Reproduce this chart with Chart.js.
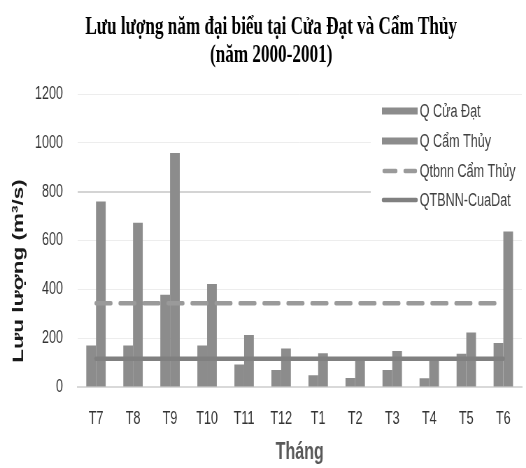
<!DOCTYPE html>
<html>
<head>
<meta charset="utf-8">
<script src="https://cdn.jsdelivr.net/npm/chart.js@4/dist/chart.umd.min.js"></script>
<style>
  html,body{margin:0;padding:0;background:#fff;overflow:hidden;}
  /* the original is squeezed sideways, so draw wide and scale down */
  #wrap{width:752px;height:468px;transform:scaleX(0.6995);transform-origin:0 0;}
</style>
</head>
<body>
<div id="wrap"><canvas id="chart" width="752" height="468"></canvas></div>
<script>
// ---- data ----
const months = ["T7","T8","T9","T10","T11","T12","T1","T2","T3","T4","T5","T6"];
const qCuaDat  = [170, 170, 378, 170, 92, 70, 48, 37, 70, 36, 136, 180];
const qCamThuy = [760, 673, 958, 422, 213, 158, 138, 115, 147, 113, 223, 637];
const qtbnnCamThuy = [343, 343, 343, 343, 343, 343, 343, 343, 343, 343, 343, 343];
const qtbnnCuaDat  = [116, 116, 116, 116, 116, 116, 116, 116, 116, 116, 116, 116];
const yTicks = [0, 200, 400, 600, 800, 1000, 1200];

const sans = "'Liberation Sans',Arial,sans-serif";

// legend sits over the plot on a white box, like the original
const boxLegend = {
  id: "boxLegend",
  beforeDatasetsDraw(chart){
    const ctx = chart.ctx;
    ctx.save();
    ctx.fillStyle = "#fff";
    ctx.fillRect(530, 100, 222, 114);
    ctx.restore();
  },
  afterDraw(chart){
    const ctx = chart.ctx;
    const ys = [111, 141, 171, 200];
    ctx.save();
    chart.data.datasets.forEach((ds, i) => {
      const y = ys[i];
      ctx.strokeStyle = ds.borderColor;
      ctx.lineWidth = ds.borderWidth;
      ctx.lineCap = "round";
      if(ds.type === "line" && ds.borderDash){
        ctx.beginPath();
        ctx.moveTo(549, y); ctx.lineTo(566, y);
        ctx.moveTo(579, y); ctx.lineTo(594, y);
        ctx.stroke();
      } else if(ds.type === "line"){
        ctx.beginPath(); ctx.moveTo(548, y); ctx.lineTo(595, y); ctx.stroke();
      } else {
        ctx.fillStyle = ds.backgroundColor;
        ctx.fillRect(546, y - 3.5, 51, 7);
      }
      ctx.fillStyle = "#404040";
      ctx.font = "18px " + sans;
      ctx.textBaseline = "middle";
      ctx.fillText(ds.label, 600, y + 1);
    });
    ctx.textAlign = "center";
    ctx.textBaseline = "middle";
    // x axis title
    const area = chart.chartArea;
    ctx.font = "bold 23px " + sans;
    ctx.fillStyle = "#595959";
    ctx.fillText("Tháng", (area.left + area.right) / 2, 453);
    // y axis title
    ctx.translate(26.5, 271);
    ctx.rotate(-Math.PI/2);
    ctx.font = "bold 22.5px " + sans;
    ctx.fillStyle = "#1a1a1a";
    ctx.fillText("Lưu lượng (m³/s)", 0, 0);
    ctx.restore();
  }
};

new Chart(document.getElementById("chart"), {
  data: {
    labels: months,
    datasets: [
      { type:"bar", label:"Q Cửa Đạt", data:qCuaDat, backgroundColor:"#8c8c8c",
        borderWidth:0, categoryPercentage:0.525, barPercentage:1, order:1 },
      { type:"bar", label:"Q Cẩm Thủy", data:qCamThuy, backgroundColor:"#8c8c8c",
        borderWidth:0, categoryPercentage:0.525, barPercentage:1, order:1 },
      { type:"line", label:"Qtbnn Cẩm Thủy", data:qtbnnCamThuy, borderColor:"#9a9a9a",
        borderWidth:4.5, borderDash:[21.5,12.8], borderCapStyle:"round", pointRadius:0, order:0 },
      { type:"line", label:"QTBNN-CuaDat", data:qtbnnCuaDat, borderColor:"#808080",
        borderWidth:4.5, borderCapStyle:"round", pointRadius:0, order:0 }
    ]
  },
  options: {
    responsive:false,
    animation:false,
    layout:{ padding:{ left:29.3, right:6, top:0, bottom:17 } },
    plugins:{
      legend:{ display:false },
      tooltip:{ enabled:false },
      title:{
        display:true,
        text:["Lưu lượng năm đại biểu tại Cửa Đạt và Cẩm Thủy", "(năm 2000-2001)"],
        color:"#000",
        font:{ family:"'Liberation Serif','Times New Roman',serif", size:24.5, weight:"bold", lineHeight:1.143 },
        padding:{ top:14, bottom:24 }
      }
    },
    scales:{
      x:{
        grid:{ display:false, drawTicks:false },
        border:{ display:true, color:"#d9d9d9", width:2 },
        ticks:{ color:"#333333", font:{ family:sans, size:18 }, padding:21.2, maxRotation:0 }
      },
      y:{
        min:0, max:1200,
        afterBuildTicks(axis){ axis.ticks = yTicks.map(v => ({ value:v })); },
        grid:{ drawTicks:false,
          color:(c) => c.tick && c.tick.value === 800 ? "#d4d4d4" : "#ededed",
          lineWidth:(c) => c.tick && c.tick.value === 800 ? 2 : 1 },
        border:{ display:false },
        ticks:{ color:"#333333", font:{ family:sans, size:18 }, padding:20.7,
          callback:(v) => String(v) }
      }
    }
  },
  plugins:[boxLegend]
});
</script>
</body>
</html>
